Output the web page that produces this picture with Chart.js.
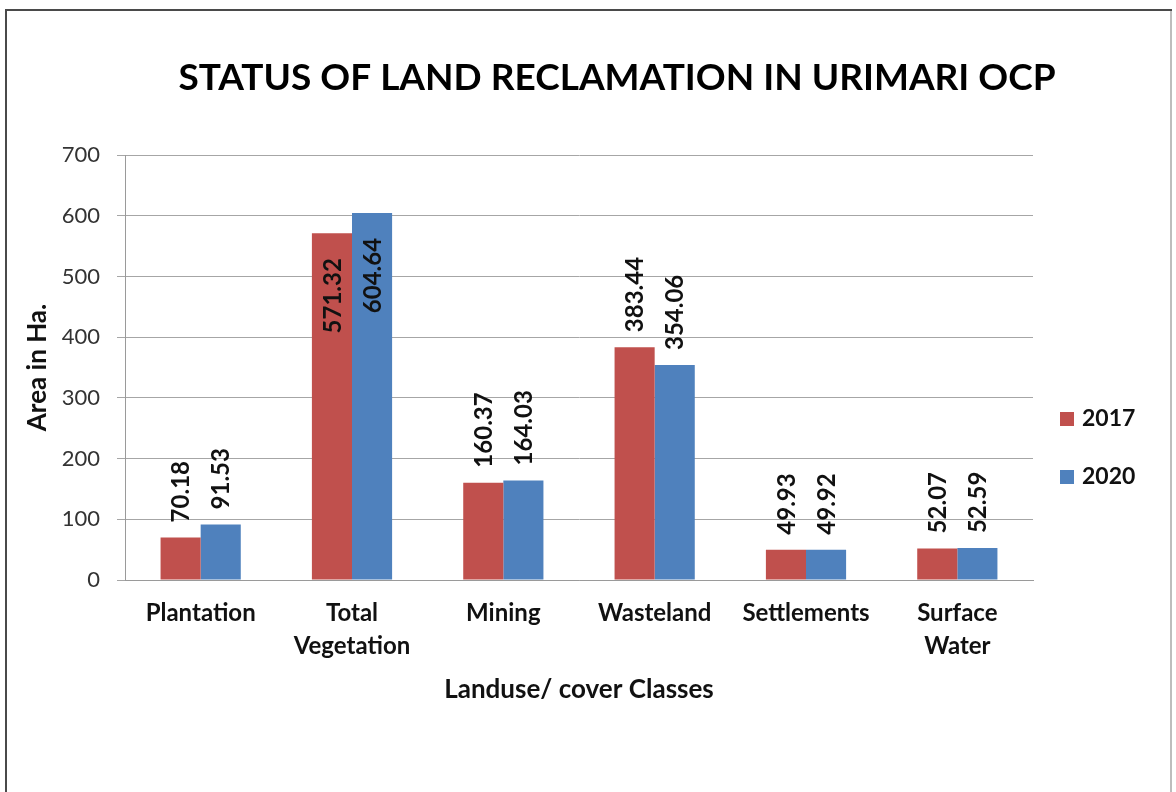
<!DOCTYPE html>
<html>
<head>
<meta charset="utf-8">
<script src="https://cdn.jsdelivr.net/npm/chart.js@4/dist/chart.umd.min.js"></script>
<style>
html, body { margin: 0; padding: 0; background: #fff; }
canvas { display: block; }
</style>
</head>
<body>
<canvas id="landChart" width="1176" height="792"></canvas>
<script>
// DATA
const categories = ['Plantation', ['Total', 'Vegetation'], 'Mining', 'Wasteland', 'Settlements', ['Surface', 'Water']];
const years = ['2017', '2020'];
const area2017 = [70.18, 571.32, 160.37, 383.44, 49.93, 52.07];
const area2020 = [91.53, 604.64, 164.03, 354.06, 49.92, 52.59];
const yTicks = [0, 100, 200, 300, 400, 500, 600, 700];
const chartTitle = 'STATUS OF LAND RECLAMATION IN URIMARI OCP';

const FONT = 'Lato, "Open Sans", sans-serif';

// frame round the whole picture + title
const framePlugin = {
  id: 'frame',
  beforeDraw(chart) {
    const c = chart.ctx;
    c.save();
    c.fillStyle = '#fff';
    c.fillRect(0, 0, chart.width, chart.height);
    c.lineWidth = 2;
    c.strokeStyle = '#bdbdbd';
    c.beginPath();
    c.moveTo(1171, 10);
    c.lineTo(1171, chart.height);
    c.stroke();
    c.strokeStyle = '#4a4a4a';
    c.beginPath();
    c.moveTo(6, chart.height);
    c.lineTo(6, 10);
    c.lineTo(1172, 10);
    c.stroke();

    c.fillStyle = '#000';
    c.font = 'bold 37px ' + FONT;
    c.textAlign = 'center';
    c.textBaseline = 'middle';
    c.fillText(chartTitle, 617, 78);
    c.restore();
  }
};

// rotated value labels, above the bar or inside when no room
const valueLabels = {
  id: 'valueLabels',
  afterDatasetsDraw(chart) {
    const c = chart.ctx;
    const top = chart.chartArea.top;
    c.save();
    c.font = 'bold 24px ' + FONT;
    c.fillStyle = '#111';
    c.textBaseline = 'middle';
    chart.data.datasets.forEach((ds, i) => {
      chart.getDatasetMeta(i).data.forEach((bar, j) => {
        const txt = ds.data[j].toFixed(2);
        const w = c.measureText(txt).width;
        c.save();
        if (bar.y - 15 - w < top) {
          c.translate(bar.x + 1, bar.y + 25);
          c.rotate(-Math.PI / 2);
          c.textAlign = 'right';
        } else {
          c.translate(bar.x + 1, bar.y - 15);
          c.rotate(-Math.PI / 2);
          c.textAlign = 'left';
        }
        c.fillText(txt, 0, 0);
        c.restore();
      });
    });
    c.restore();
  }
};

// legend on the right
const sideLegend = {
  id: 'sideLegend',
  afterDraw(chart) {
    const c = chart.ctx;
    c.save();
    c.font = 'bold 23px ' + FONT;
    c.textBaseline = 'middle';
    c.textAlign = 'left';
    chart.data.datasets.forEach((ds, i) => {
      const y = 419 + i * 58;
      c.fillStyle = ds.backgroundColor;
      c.fillRect(1060, y - 7, 14, 14);
      c.fillStyle = '#111';
      c.fillText(ds.label, 1082, y);
    });
    c.restore();
  }
};

new Chart(document.getElementById('landChart'), {
  type: 'bar',
  data: {
    labels: categories,
    datasets: [{
      label: years[0],
      data: area2017,
      backgroundColor: '#C0504D',
      borderWidth: 0
    }, {
      label: years[1],
      data: area2020,
      backgroundColor: '#4F81BD',
      borderWidth: 0
    }]
  },
  options: {
    responsive: false,
    devicePixelRatio: 1,
    animation: false,
    layout: { padding: { top: 155, left: 22, right: 143, bottom: 89 } },
    datasets: { bar: { categoryPercentage: 0.53, barPercentage: 1 } },
    plugins: {
      legend: { display: false },
      tooltip: { enabled: false },
      title: { display: false }
    },
    scales: {
      x: {
        afterFit(axis) { axis.height = 123; },
        grid: { display: false },
        border: { display: true, color: '#9a9a9a' },
        ticks: {
          color: '#111',
          padding: 9,
          font: { family: FONT, size: 24, weight: 'bold', lineHeight: 1.375 },
          maxRotation: 0,
          autoSkip: false
        },
        title: {
          display: true,
          text: 'Landuse/ cover Classes',
          color: '#111',
          font: { family: FONT, size: 26, weight: 'bold', lineHeight: 1.0 },
          padding: { top: 0, bottom: 0 }
        }
      },
      y: {
        min: 0,
        max: 700,
        afterFit(axis) { axis.width = 103; },
        afterBuildTicks(axis) { axis.ticks = yTicks.map(v => ({ value: v })); },
        grid: { color: '#a6a6a6', lineWidth: 1, tickLength: 8 },
        border: { display: true, color: '#9a9a9a' },
        ticks: {
          color: '#333',
          padding: 17,
          font: { family: FONT, size: 22 }
        },
        title: {
          display: true,
          text: 'Area in Ha.',
          color: '#111',
          font: { family: FONT, size: 26, weight: 'bold' },
          padding: { top: 0, bottom: 0 }
        }
      }
    }
  },
  plugins: [framePlugin, valueLabels, sideLegend]
});
</script>
</body>
</html>
